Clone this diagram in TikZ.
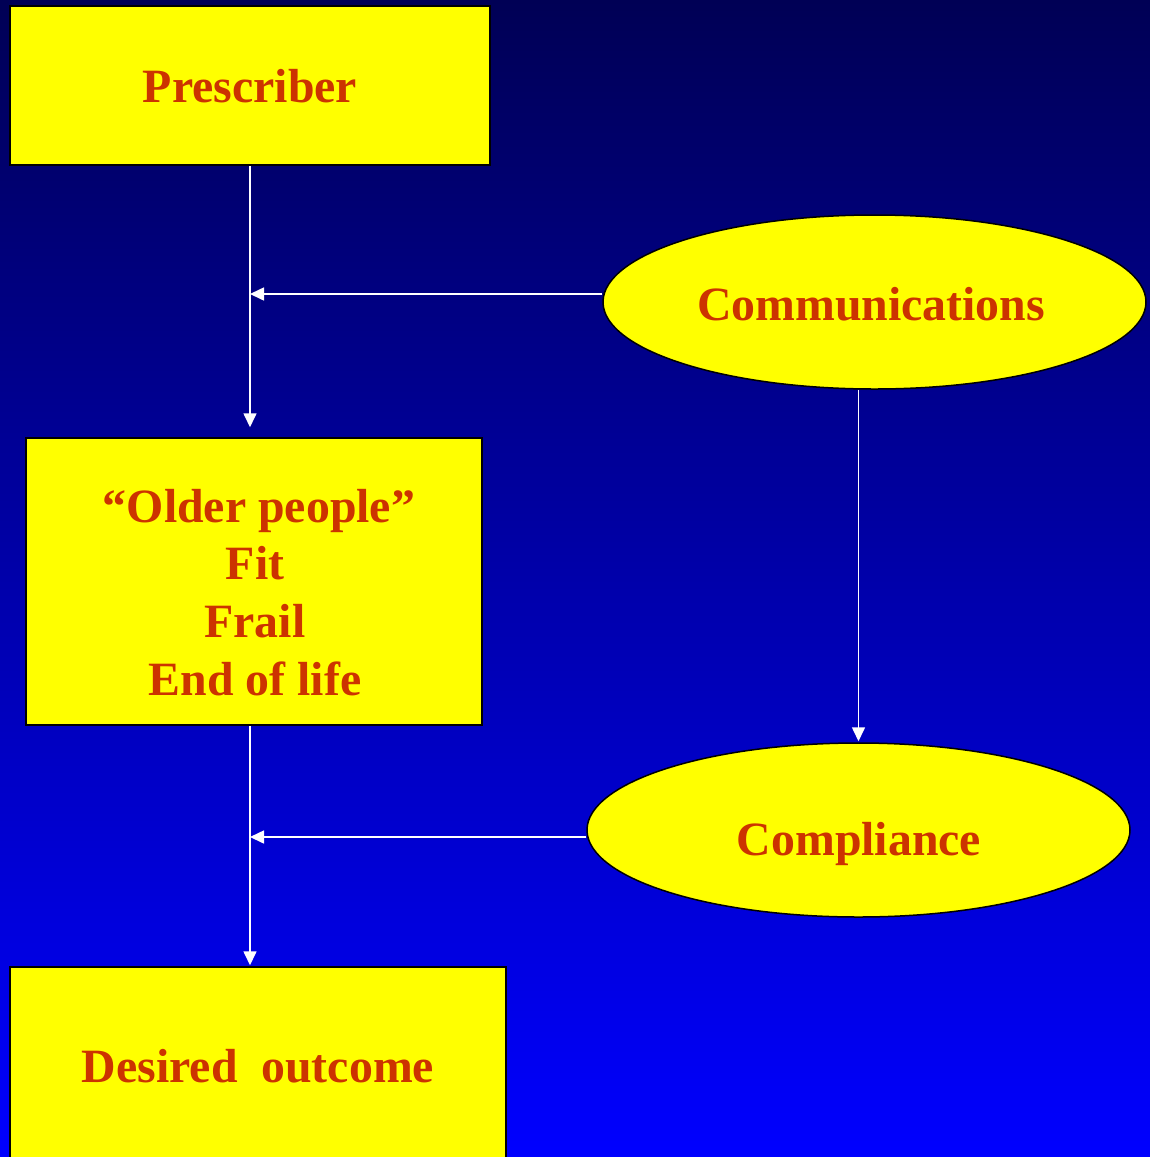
\documentclass[tikz,border=0pt]{standalone}
\usepackage{fontspec}
\setmainfont{Liberation Serif}
\usetikzlibrary{arrows.meta,shapes.geometric,calc}
\definecolor{bgtop}{HTML}{000055}
\definecolor{bgbot}{HTML}{0000FF}
\definecolor{boxfill}{HTML}{FFFF00}
\definecolor{txt}{HTML}{CC3300}
\tikzset{
  box/.style={draw=black, line width=1.5pt, fill=boxfill, rectangle, inner sep=0pt},
  oval/.style={draw=black, line width=1.5pt, fill=boxfill, ellipse, inner sep=0pt},
  lbl/.style={text=txt, font=\fontsize{47.8}{57.7}\selectfont\bfseries, anchor=base, inner sep=0pt, align=center},
  arr/.style={draw=white, line width=1.6pt, -{Triangle[length=14pt,width=13pt]}}
}
\begin{document}
\begin{tikzpicture}[x=1pt,y=-1pt]
\useasboundingbox (0,0) rectangle (1150,1157);
\shade[top color=bgtop, bottom color=bgbot] (0,0) rectangle (1150,1157);
\begin{scope}
\clip (0,0) rectangle (1150,1157);
\node[box, minimum width=480pt, minimum height=159pt] (pres) at (250,85.5) {};
\node[box, minimum width=456pt, minimum height=287pt] (older) at (254,581.5) {};
\node[box, minimum width=496pt, minimum height=220pt] (desired) at (258,1077) {};
\node[oval, minimum width=543pt, minimum height=174pt] (comm) at (874.5,302) {};
\node[oval, minimum width=543pt, minimum height=174pt] (comp) at (858.5,830) {};
\end{scope}
\node[lbl] (tpres) at (250,102) {Prescriber};
\node[lbl] (tcomm) at (871,320) {Communications};
\node[lbl] (tcomp) at (859,855) {Compliance};
\node[lbl] (tdes) at (258,1082) {Desired\ \ outcome};
\node[lbl] (tolder) at (259,522) {“Older people”};
\node[lbl] (tfit) at (255,579) {Fit};
\node[lbl] (tfrail) at (255,637) {Frail};
\node[lbl] (tend) at (255,695) {End of life};
\coordinate (j1) at (250,294);
\coordinate (j2) at (250,837);
\draw[arr, shorten >=10pt] (pres.south -| j1) -- (older.north -| j1);
\draw[arr] (comm.west |- j1) -- (j1);
\draw[arr, shorten >=1pt] (comp.north |- comm.south) -- (comp.north);
\draw[arr, shorten >=1pt] (older.south -| j2) -- (desired.north -| j2);
\draw[arr] (comp.west |- j2) -- (j2);
\end{tikzpicture}
\end{document}
